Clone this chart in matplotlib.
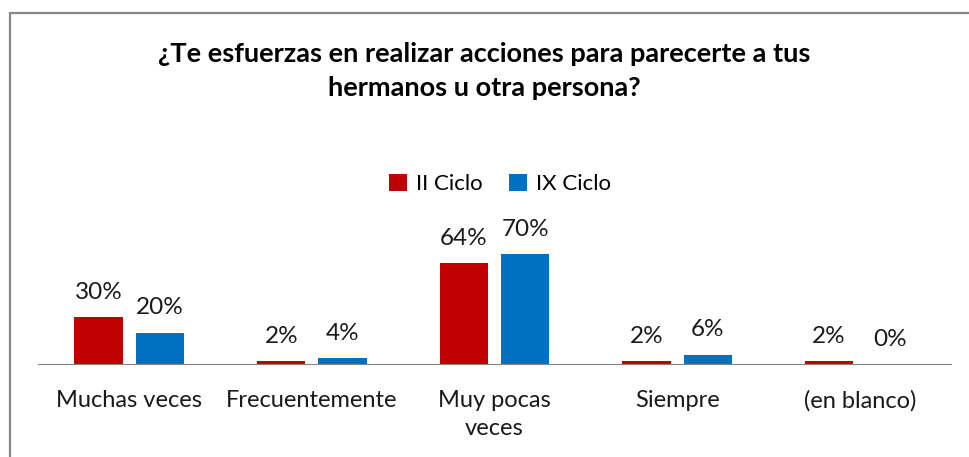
import matplotlib.pyplot as plt
import numpy as np
from matplotlib.patches import Rectangle

categories = ['Muchas veces', 'Frecuentemente', 'Muy pocas\nveces', 'Siempre', '(en blanco)']
series_names = ['II Ciclo', 'IX Ciclo']
ii_ciclo = [30, 2, 64, 2, 2]
ix_ciclo = [20, 4, 70, 6, 0]
colors = ['#C00000', '#0070C0']
title = '¿Te esfuerzas en realizar acciones para parecerte a tus\nhermanos u otra persona?'

W, H = 969, 457
fig = plt.figure(figsize=(W / 100, H / 100), dpi=100)
plt.rcParams['font.family'] = ['Lato', 'DejaVu Sans']

# frame of the chart area (runs off the right and bottom of the image)
fig.patches.append(Rectangle((10 / W, -0.1), 1.2, (H - 13) / H + 0.1,
                             transform=fig.transFigure, fill=False,
                             edgecolor='#878787', linewidth=1.6))

# plot area in pixel coords: x 38..951, baseline at y=364
ax = fig.add_axes([38 / W, (H - 364) / H, (951 - 38) / W, 126 / H])
ax.set_ylim(0, 80)
ax.set_xlim(-0.5, len(categories) - 0.5)

x = np.arange(len(categories))
bw = 0.265
off = 0.168
for vals, name, col, sign in [(ii_ciclo, series_names[0], colors[0], -1),
                              (ix_ciclo, series_names[1], colors[1], 1)]:
    bars = ax.bar(x + sign * off, vals, bw, color=col, label=name)
    for b, v in zip(bars, vals):
        ax.text(b.get_x() + b.get_width() / 2, v + 9, f'{v}%',
                ha='center', va='bottom', fontsize=17.5, color='#1a1a1a')

for s in ['top', 'right', 'left']:
    ax.spines[s].set_visible(False)
ax.spines['bottom'].set_color('#868686')
ax.set_yticks([])
ax.set_xticks(x)
ax.set_xticklabels(categories, fontsize=17, color='#1a1a1a', linespacing=1.4)
ax.tick_params(axis='x', length=0, pad=19)

fig.text(0.5, (H - 71) / H, title, ha='center', va='center', fontsize=19.5,
         fontweight='bold', linespacing=1.5)

fig.legend(loc='center', bbox_to_anchor=(500 / W, (H - 184) / H), ncol=2,
           frameon=False, fontsize=16, handlelength=0.8, handleheight=0.8,
           handletextpad=0.4, columnspacing=1.2)

fig.savefig('out.png', dpi=100)
